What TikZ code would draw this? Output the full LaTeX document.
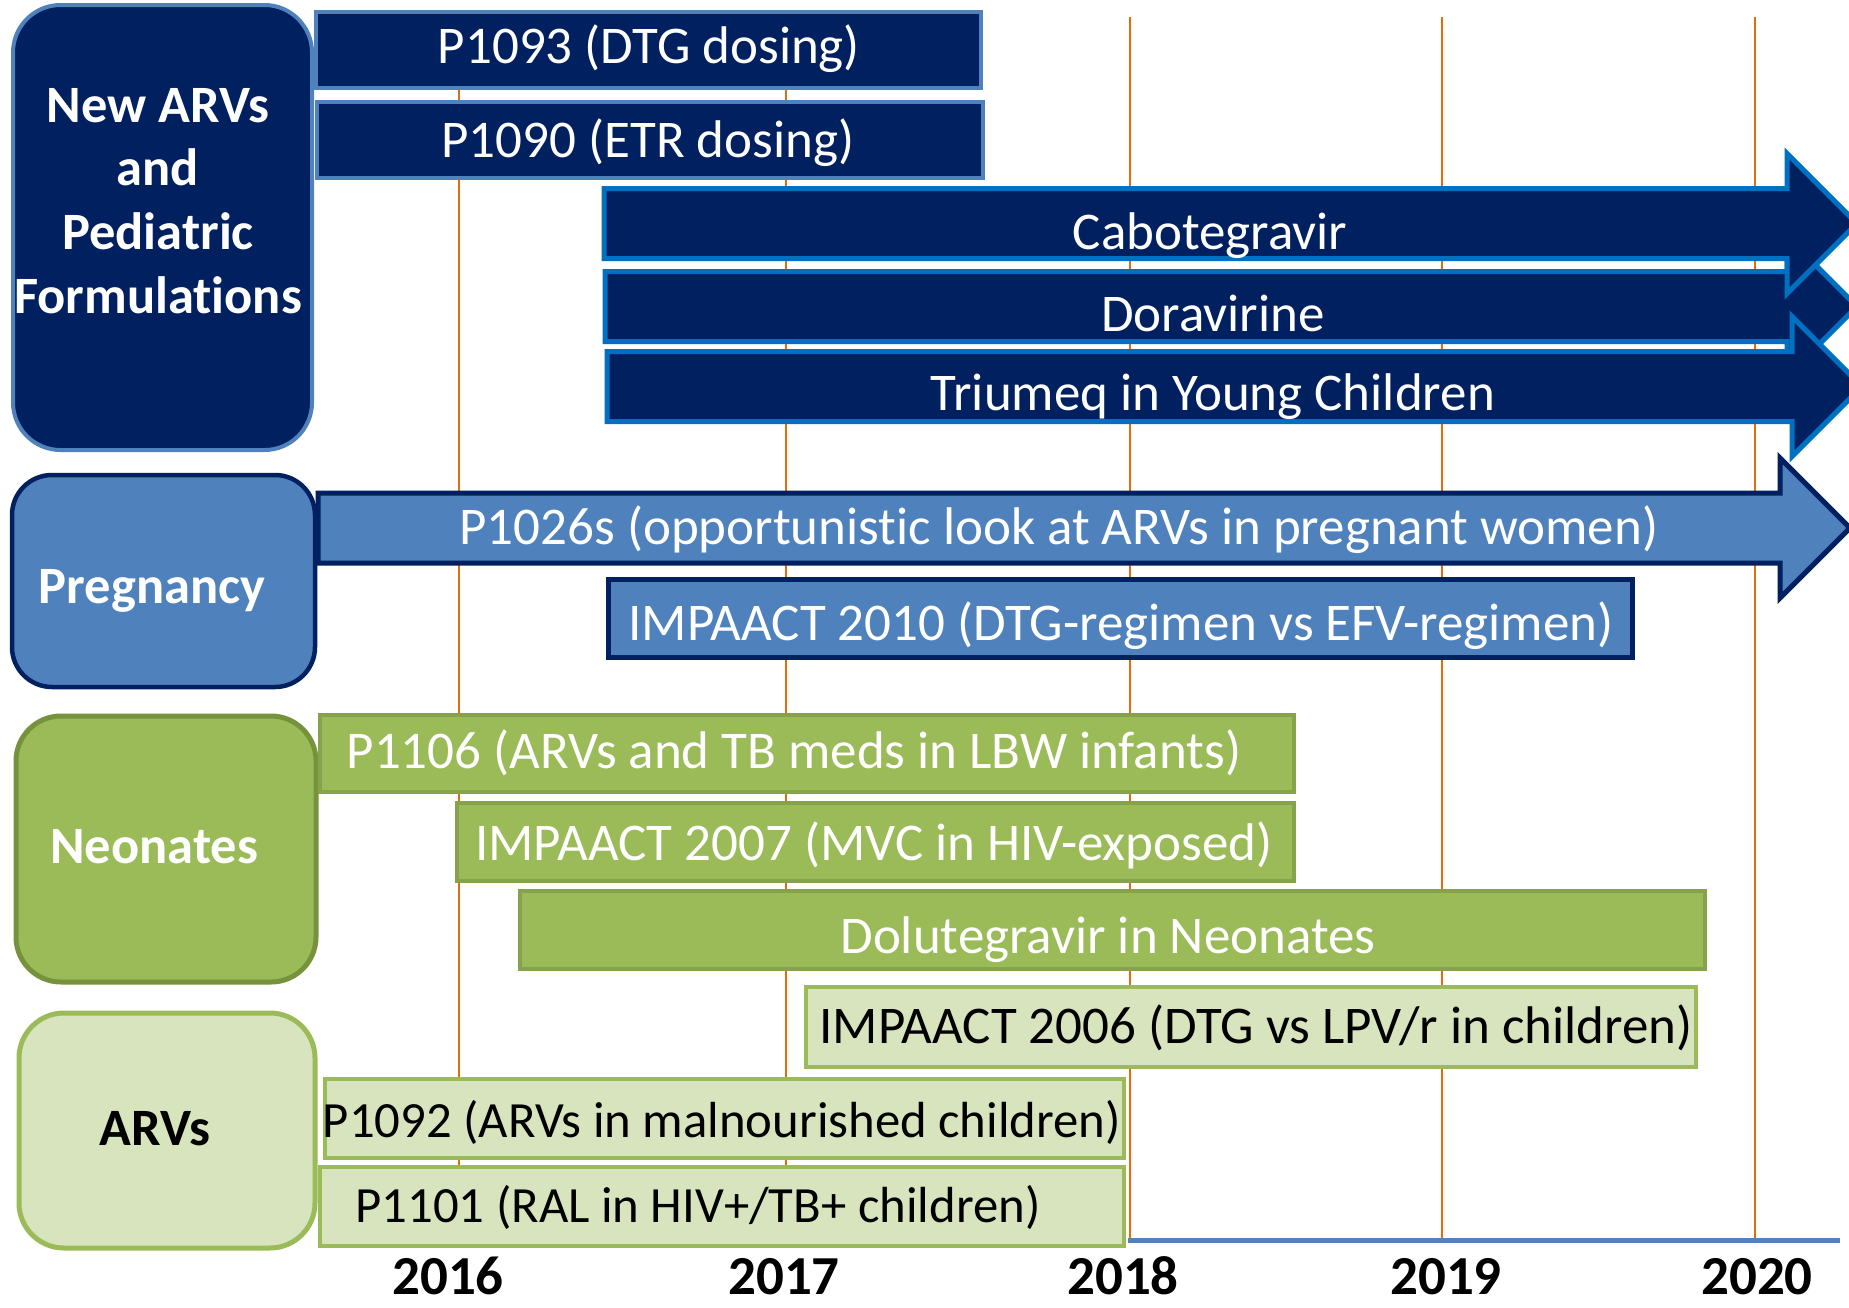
\documentclass[tikz,border=0pt]{standalone}
\usepackage{fontspec}
\setmainfont{Carlito}[Ligatures={NoCommon}]
\usepackage{tikz}

\definecolor{navy}{HTML}{002060}
\definecolor{steel}{HTML}{4F81BD}
\definecolor{brightblue}{HTML}{0070C0}
\definecolor{leaf}{HTML}{9BBB59}
\definecolor{leafdark}{HTML}{86A34C}
\definecolor{olive}{HTML}{76923C}
\definecolor{pale}{HTML}{D7E4BD}
\definecolor{tickorange}{HTML}{E46C0A}

\newcommand{\bartxt}{\fontsize{21.2}{26}\selectfont}
\newcommand{\smallbartxt}{\fontsize{20.3}{25}\selectfont}
\newcommand{\grouptxt}{\fontsize{21}{25.5}\selectfont\bfseries}
% body half height 35, head half height 70
\newcommand{\blockarrow}[5]{%
	\draw[#1] (#2,#3-35) -- (#4,#3-35) -- (#4,#3-70) -- (#5,#3) -- (#4,#3+70) -- (#4,#3+35) -- (#2,#3+35) -- cycle;}

\begin{document}
\begin{tikzpicture}[x=0.4pt, y=-0.4pt,
					yearline/.style={draw=tickorange, line width=0.8pt},
					yearlabel/.style={anchor=base, inner sep=0pt, font=\fontsize{22}{26}\selectfont\bfseries},
					navybar/.style={fill=navy, draw=steel, line width=1.6pt},
					navyarrow/.style={fill=navy, draw=brightblue, line width=2pt, line join=miter},
					bluebar/.style={fill=steel, draw=navy, line width=2pt},
					bluearrow/.style={fill=steel, draw=navy, line width=2pt, line join=miter},
					greenbar/.style={fill=leaf, draw=leafdark, line width=1.8pt},
					palebar/.style={fill=pale, draw=leaf, line width=1.8pt},
					bartext/.style={anchor=base, inner sep=0pt, text=white, font=\bartxt},
					grouptext/.style={inner sep=0pt, align=center, text=white, font=\grouptxt}]
	\useasboundingbox (0,0) rectangle (1849,1308);
	% time grid
	\foreach \x/\lx/\yr in {459/448/2016, 786/784/2017, 1130/1123/2018, 1442/1446/2019, 1755/1757/2020}{
		\draw[yearline] (\x,17) -- (\x,1242);
		\node[yearlabel] (y\yr) at (\lx,1294) {\yr};
	}
	\draw[steel, line width=2pt] (1128,1240.5) -- (1840,1240.5);
	% groups
	\draw[fill=navy, draw=steel, line width=1.6pt, rounded corners=19pt] (13,5) rectangle (312,450);
	\node[grouptext] (newarv) at (158,201) {New ARVs\\and\\Pediatric\\Formulations};
	\draw[fill=steel, draw=navy, line width=1.8pt, rounded corners=16pt] (12,475) rectangle (315,687);
	\node[grouptext, anchor=base] (preg) at (152,603) {Pregnancy};
	\draw[fill=leaf, draw=olive, line width=2pt, rounded corners=18pt] (16,716) rectangle (316,982);
	\node[grouptext, anchor=base] (neo) at (154,863) {Neonates};
	\draw[fill=pale, draw=leaf, line width=2pt, rounded corners=18pt] (19,1013) rectangle (315,1248);
	\node[grouptext, anchor=base, text=black] (arv) at (155,1145) {ARVs};
	% new ARVs
	\draw[navybar] (316,12) rectangle (981,88);
	\node[bartext] (p1093) at (649,63) {P1093 (DTG dosing)};
	\draw[navybar] (317,102) rectangle (983,178);
	\node[bartext] (p1090) at (648,157) {P1090 (ETR dosing)};
	\blockarrow{navyarrow}{605}{306.5}{1787}{1857}
	\blockarrow{navyarrow}{604}{223.5}{1787}{1857}
	\blockarrow{navyarrow}{607}{386.5}{1792}{1862}
	\node[bartext] (cab) at (1210,249) {Cabotegravir};
	\node[bartext] (dor) at (1213,331) {Doravirine};
	\node[bartext] (tri) at (1213,410) {Triumeq in Young Children};
	% pregnancy
	\blockarrow{bluearrow}{318}{528}{1780}{1850}
	\node[bartext] (p1026) at (1059,544) {P1026s (opportunistic look at ARVs in pregnant women)};
	\draw[bluebar] (608,579) rectangle (1632,657);
	\node[bartext] (imp2010) at (1121,640) {IMPAACT 2010 (DTG-regimen vs EFV-regimen)};
	% neonates
	\draw[greenbar] (320,715) rectangle (1294,792);
	\node[bartext] (p1106) at (794,768) {P1106 (ARVs and TB meds in LBW infants)};
	\draw[greenbar] (457,803) rectangle (1294,881);
	\node[bartext] (imp2007) at (874,860) {IMPAACT 2007 (MVC in HIV-exposed)};
	\draw[greenbar] (520,891) rectangle (1705,969);
	\node[bartext] (dtgneo) at (1108,953) {Dolutegravir in Neonates};
	% ARVs
	\draw[palebar] (806,987) rectangle (1696,1067);
	\node[bartext, text=black] (imp2006) at (1256,1043) {IMPAACT 2006 (DTG vs LPV/r in children)};
	\draw[palebar] (325,1079) rectangle (1124,1158);
	\node[bartext, text=black, font=\smallbartxt] (p1092) at (722,1137) {P1092 (ARVs in malnourished children)};
	\draw[palebar] (320,1167) rectangle (1124,1246);
	\node[bartext, text=black, font=\smallbartxt] (p1101) at (698,1222) {P1101 (RAL in HIV+/TB+ children)};
\end{tikzpicture}
\end{document}
